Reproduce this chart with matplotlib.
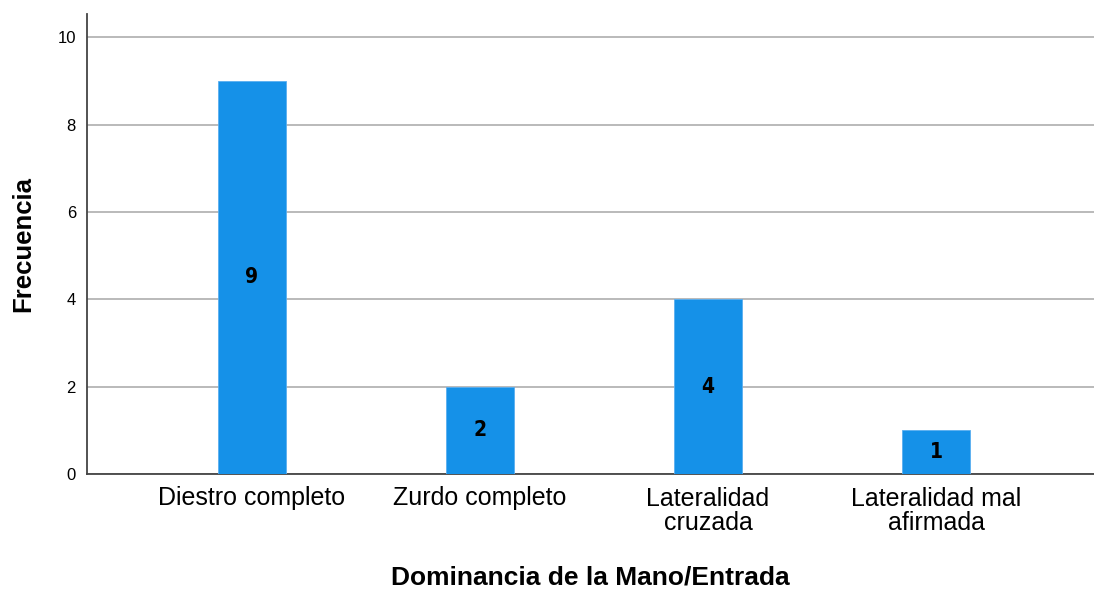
import matplotlib
matplotlib.use("Agg")
import matplotlib.pyplot as plt

categories = ["Diestro completo", "Zurdo completo", "Lateralidad\ncruzada", "Lateralidad mal\nafirmada"]
values = [9, 2, 4, 1]
yticks = [0, 2, 4, 6, 8, 10]

plt.rcParams['font.family'] = ['Liberation Sans', 'DejaVu Sans']

fig = plt.figure(figsize=(10.94, 5.89), dpi=100)
ax = fig.add_axes([87/1094, 1-474/589, (1094-87)/1094, (474-14)/589])

x = list(range(len(categories)))
bars = ax.bar(x, values, width=0.3, color='#1591E8', edgecolor='#5aaef0', linewidth=0.6, zorder=3)
for xi, v in zip(x, values):
    ax.text(xi, v/2, str(v), ha='center', va='center', fontsize=15, fontweight='bold',
            family='DejaVu Sans', fontstretch='condensed',
            color='black', zorder=4)

ax.set_xlim(-0.724, 3.693)
ax.set_ylim(0, 10.53)
ax.set_yticks(yticks)
ax.set_yticklabels([str(t) for t in yticks], fontsize=12)
ax.set_xticks(x)
ax.set_xticklabels(categories, fontsize=18, linespacing=1.02)
ax.tick_params(axis='both', length=0)
ax.tick_params(axis='y', pad=8)
ax.tick_params(axis='x', pad=9)
ax.yaxis.grid(True, color='#b4b4b4', linewidth=1.3, zorder=0)
ax.set_axisbelow(True)
for s in ['top', 'right']:
    ax.spines[s].set_visible(False)
for s in ['left', 'bottom']:
    ax.spines[s].set_color('#444444')
    ax.spines[s].set_linewidth(1.3)

ax.set_ylabel('Frecuencia', fontsize=18.5, fontweight='bold', labelpad=16)
ax.set_xlabel('Dominancia de la Mano/Entrada', fontsize=19, fontweight='bold', labelpad=22)

fig.savefig('out.png', dpi=100)
